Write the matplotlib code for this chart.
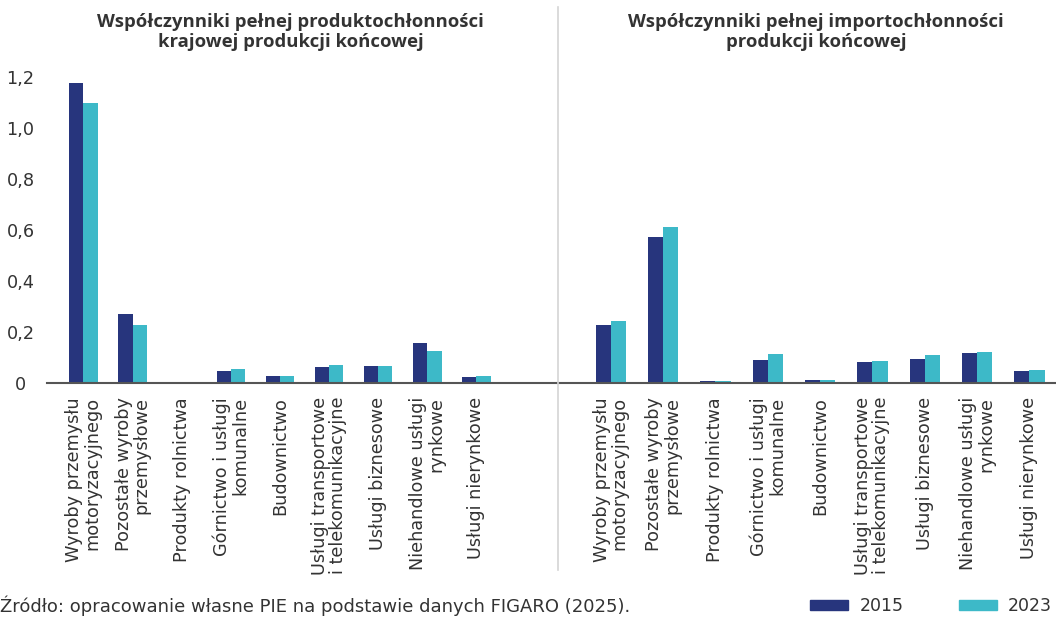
import numpy as np
import matplotlib
matplotlib.use("Agg")
import matplotlib.pyplot as plt
from matplotlib.patches import Patch

plt.rcParams['font.family'] = ['DejaVu Sans']

# dane
categories = ["Wyroby przemysłu\nmotoryzacyjnego",
              "Pozostałe wyroby\nprzemysłowe",
              "Produkty rolnictwa",
              "Górnictwo i usługi\nkomunalne",
              "Budownictwo",
              "Usługi transportowe\ni telekomunikacyjne",
              "Usługi biznesowe",
              "Niehandlowe usługi\nrynkowe",
              "Usługi nierynkowe"]
years = ["2015", "2023"]
domestic_2015 = [1.176, 0.270, 0.005, 0.047, 0.029, 0.063, 0.067, 0.157, 0.024]
domestic_2023 = [1.098, 0.227, 0.002, 0.055, 0.029, 0.071, 0.067, 0.125, 0.028]
import_2015 = [0.228, 0.573, 0.009, 0.091, 0.013, 0.083, 0.094, 0.118, 0.047]
import_2023 = [0.243, 0.612, 0.009, 0.115, 0.013, 0.087, 0.110, 0.122, 0.051]
titles = ["Współczynniki pełnej produktochłonności\nkrajowej produkcji końcowej",
          "Współczynniki pełnej importochłonności\nprodukcji końcowej"]
yticks = [0, 0.2, 0.4, 0.6, 0.8, 1.0, 1.2]
ytick_labels = ["0", "0,2", "0,4", "0,6", "0,8", "1,0", "1,2"]
source = "Źródło: opracowanie własne PIE na podstawie danych FIGARO (2025)."

c15 = '#27357D'
c23 = '#3DB9C8'
txt = '#333333'

W, H = 1056, 617
fig = plt.figure(figsize=(W / 100, H / 100), dpi=100)
renderer = fig.canvas.get_renderer()


def fit_size(s, target_px, size=10, **kw):
    # rozmiar czcionki, przy którym tekst ma zadaną szerokość w pikselach
    t = fig.text(0, 0, s, fontsize=size, **kw)
    wpx = t.get_window_extent(renderer).width
    t.remove()
    return size * target_px / wpx


fs = fit_size("Usługi transportowe", 178)
fs_src = fit_size(source, 630)
fs_title = fit_size(titles[0].split("\n")[0], 385, fontweight='bold',
                    family=['Open Sans', 'DejaVu Sans'])


def px(x0, y_top, x1, y_bot):
    return [x0 / W, 1 - y_bot / H, (x1 - x0) / W, (y_bot - y_top) / H]


ax1 = fig.add_axes(px(47, 77, 558, 383))
ax2 = fig.add_axes(px(558, 77, 1055, 383))

x = np.arange(len(categories))
w = 0.29
for ax, s15, s23, xl in [(ax1, domestic_2015, domestic_2023, (-0.743, 9.66)),
                         (ax2, import_2015, import_2023, (-1.01, 8.49))]:
    ax.bar(x - w / 2, s15, w, color=c15, label=years[0])
    ax.bar(x + w / 2, s23, w, color=c23, label=years[1])
    ax.set_xlim(*xl)
    ax.set_ylim(0, 1.2)
    for sp in ['top', 'right', 'left']:
        ax.spines[sp].set_visible(False)
    ax.spines['bottom'].set_color('#555555')
    ax.spines['bottom'].set_linewidth(1.5)
    ax.set_xticks(x)
    ax.set_xticklabels(categories, rotation=90, fontsize=fs, color=txt,
                       multialignment='right', linespacing=1.0)
    ax.tick_params(axis='x', length=0, pad=10)
    ax.patch.set_alpha(0)

ax1.set_yticks(yticks)
ax1.set_yticklabels(ytick_labels, fontsize=fs, color=txt)
for lab in ax1.get_yticklabels():
    lab.set_horizontalalignment('center')
ax1.tick_params(axis='y', length=0, pad=19)
ax2.set_yticks([])

# linia podziału
fig.add_artist(plt.Line2D([558 / W, 558 / W], [1 - 7 / H, 1 - 570 / H],
                          color='#d4d4d4', lw=1.2))

for xc, t in zip([290.5, 816], titles):
    fig.text(xc / W, 1 - 32 / H, t, ha='center', va='center',
             fontsize=fs_title, fontweight='bold', color=txt, linespacing=1.2,
             family=['Open Sans', 'DejaVu Sans'])

fig.text(0, 1 - 606 / H, source, ha='left', va='center', fontsize=fs_src, color=txt)

handles = [Patch(color=c15, label=years[0]), Patch(color=c23, label=years[1])]
fig.legend(handles=handles, loc='center right', bbox_to_anchor=(1052 / W, 1 - 606 / H),
           ncol=2, frameon=False, fontsize=12.5, handlelength=2.2, handleheight=0.46,
           handletextpad=0.63, columnspacing=3.2, borderpad=0, borderaxespad=0,
           labelcolor=txt)

fig.savefig("out.png", dpi=100)
